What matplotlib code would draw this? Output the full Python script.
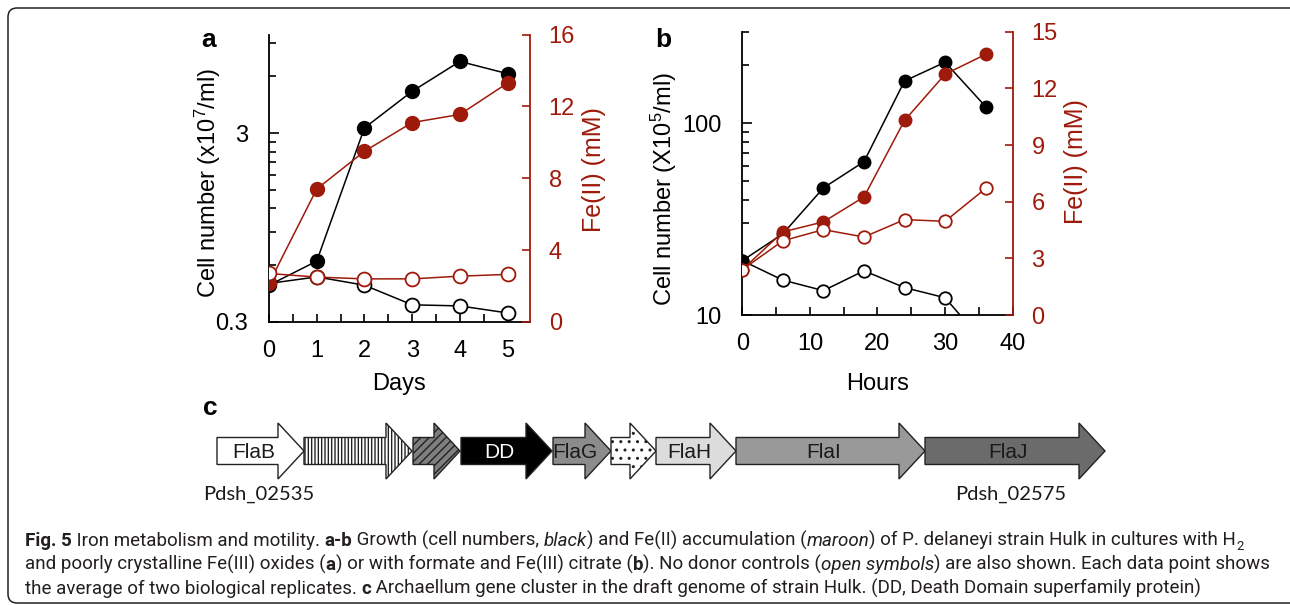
import matplotlib
matplotlib.use("Agg")
import matplotlib.pyplot as plt
import matplotlib.ticker as ticker
from matplotlib.patches import Polygon, FancyBboxPatch
from matplotlib.transforms import IdentityTransform
import numpy as np

# Fonts: Arial-like for the charts
plt.rcParams["font.family"] = ["Liberation Sans", "DejaVu Sans"]
plt.rcParams["mathtext.fontset"] = "custom"
plt.rcParams["mathtext.rm"] = "Liberation Sans"
plt.rcParams["mathtext.it"] = "Liberation Sans:italic"
plt.rcParams["mathtext.bf"] = "Liberation Sans:bold"
plt.rcParams["hatch.linewidth"] = 1.0

MAROON = "#9e1a0a"
FS = 17

# Panel a: H2 + Fe(III) oxides (days)
days = [0, 1, 2, 3, 4, 5]
a_cells = [0.47, 0.63, 3.2, 5.0, 7.2, 6.2]
a_cells_ctrl = [0.48, 0.52, 0.47, 0.37, 0.365, 0.335]
a_fe = [2.15, 7.4, 9.5, 11.1, 11.55, 13.3]
a_fe_ctrl = [2.7, 2.5, 2.4, 2.4, 2.55, 2.65]

# Panel b: formate + Fe(III) citrate (hours)
hours = [0, 6, 12, 18, 24, 30, 36]
b_cells = [19.2, 26.5, 46, 63, 166, 208, 122]
b_cells_ctrl = [19.2, 15.2, 13.4, 17.0, 13.9, 12.3, 7.0]
b_fe = [2.4, 4.4, 4.93, 6.25, 10.3, 12.75, 13.8]
b_fe_ctrl = [2.4, 3.93, 4.52, 4.13, 5.05, 4.96, 6.7]

# Panel c: archaellum gene cluster (map units)
gene_start = [217, 304, 413, 461, 553, 611, 656, 736, 925]
gene_end = [304, 412, 460, 552, 611, 656, 736, 925, 1105]
gene_names = ["FlaB", "", "", "DD", "FlaG", "", "FlaH", "FlaI", "FlaJ"]
gene_fill = ["white", "white", "#7f7f7f", "black", "#8c8c8c", "white", "#dcdcdc", "#999999", "#6b6b6b"]
gene_hatch = [None, "|||||", "////", None, None, "..", None, None, None]

W, H = 1290, 605
fig = plt.figure(figsize=(W / 100, H / 100), dpi=100)


def px_axes(left, top, right, bottom):
    return fig.add_axes([left / W, 1 - bottom / H, (right - left) / W, (bottom - top) / H])


def growth_panel(ax, x, cells, cells_ctrl, fe, fe_ctrl, ms):
    ax.plot(x, cells_ctrl, color="black", lw=1.1, marker="o", ms=ms, mfc="white", mec="black", mew=1.3)
    ax.plot(x, cells, color="black", lw=1.1, marker="o", ms=ms, mfc="black", mec="black")
    ax.set_yscale("log")
    axr = ax.twinx()
    axr.plot(x, fe, color=MAROON, lw=1.1, marker="o", ms=ms, mfc=MAROON, mec=MAROON)
    axr.plot(x, fe_ctrl, color=MAROON, lw=1.1, marker="o", ms=ms, mfc="white", mec=MAROON, mew=1.3)
    for s in ["top", "right"]:
        ax.spines[s].set_visible(False)
    for s in ["top", "left", "bottom"]:
        axr.spines[s].set_visible(False)
    ax.spines["left"].set_linewidth(1.3)
    ax.spines["bottom"].set_linewidth(1.3)
    axr.spines["right"].set_linewidth(1.3)
    axr.spines["right"].set_color(MAROON)
    ax.tick_params(axis="x", which="both", direction="in", length=6, width=1.2, pad=13, labelsize=FS)
    ax.tick_params(axis="y", which="major", direction="in", length=7, width=1.2, pad=15, labelsize=FS)
    ax.tick_params(axis="y", which="minor", direction="in", length=5, width=1.2)
    axr.tick_params(axis="y", direction="in", length=6, width=1.2, pad=13.5, labelsize=FS,
                    color=MAROON, labelcolor=MAROON)
    return axr


# ---- panel a
ax_a = px_axes(269, 34.5, 530, 322)
axr_a = growth_panel(ax_a, days, a_cells, a_cells_ctrl, a_fe, a_fe_ctrl, 10)
ax_a.set_xlim(0, 5.47)
ax_a.set_ylim(0.3, 10)
ax_a.xaxis.set_major_locator(ticker.MultipleLocator(1))
ax_a.xaxis.set_minor_locator(ticker.MultipleLocator(0.5))
ax_a.yaxis.set_major_locator(ticker.FixedLocator([0.3, 3]))
ax_a.yaxis.set_major_formatter(ticker.FixedFormatter(["0.3", "3"]))
ax_a.yaxis.set_minor_locator(ticker.FixedLocator(np.concatenate([0.3 * np.arange(2, 10), 3 * np.arange(2, 4)])))
ax_a.yaxis.set_minor_formatter(ticker.NullFormatter())
axr_a.set_ylim(0, 16)
axr_a.yaxis.set_major_locator(ticker.MultipleLocator(4))
ax_a.set_xlabel("Days", fontsize=FS, labelpad=8)
ax_a.set_ylabel(r"Cell number (x10$^{7}$/ml)", fontsize=FS)
ax_a.yaxis.set_label_coords(-0.176, 0.483)
axr_a.set_ylabel("Fe(II) (mM)", fontsize=18, color=MAROON)
axr_a.yaxis.set_label_coords(1.2, 0.53)

# ---- panel b
ax_b = px_axes(742.3, 31.7, 1012.7, 315)
axr_b = growth_panel(ax_b, hours, b_cells, b_cells_ctrl, b_fe, b_fe_ctrl, 9)
ax_b.set_xlim(0, 40)
ax_b.set_ylim(10, 300)
ax_b.xaxis.set_major_locator(ticker.MultipleLocator(10))
ax_b.xaxis.set_minor_locator(ticker.MultipleLocator(5))
ax_b.yaxis.set_major_locator(ticker.FixedLocator([10, 100]))
ax_b.yaxis.set_major_formatter(ticker.FixedFormatter(["10", "100"]))
ax_b.yaxis.set_minor_locator(ticker.LogLocator(subs=np.arange(2, 10)))
ax_b.yaxis.set_minor_formatter(ticker.NullFormatter())
axr_b.set_ylim(0, 15)
axr_b.yaxis.set_major_locator(ticker.MultipleLocator(3))
ax_b.set_xlabel("Hours", fontsize=FS, labelpad=13)
ax_b.set_ylabel(r"Cell number (X10$^{5}$/ml)", fontsize=FS)
ax_b.yaxis.set_label_coords(-0.234, 0.445)
axr_b.set_ylabel("Fe(II) (mM)", fontsize=18, color=MAROON)
axr_b.yaxis.set_label_coords(1.19, 0.54)

# ---- panel c: gene arrows
ax_c = px_axes(200, 400, 1120, 510)
ax_c.set_xlim(200, 1120)
ax_c.set_ylim(510, 400)
ax_c.axis("off")
yc, body, head, head_len = 451, 13.5, 28, 26
for s, e, name, fc, hatch in zip(gene_start, gene_end, gene_names, gene_fill, gene_hatch):
    he = e - head_len
    pts = [(s, yc - body), (he, yc - body), (he, yc - head), (e, yc),
           (he, yc + head), (he, yc + body), (s, yc + body)]
    ax_c.add_patch(Polygon(pts, closed=True, facecolor=fc, edgecolor="#222222",
                           lw=1.0, hatch=hatch))
    if name:
        ax_c.text((s + e) / 2 - 7, yc + 7.5, name, fontsize=15, ha="center", va="baseline",
                  color="white" if fc == "black" else "#1a1a1a")
ax_c.text(gene_start[0] - 14, 500, "Pdsh_02535", fontsize=14.5, family=["Lato", "DejaVu Sans"],
          color="#1a1a1a", ha="left", va="baseline", clip_on=False)
ax_c.text(gene_end[-1] - 150, 500, "Pdsh_02575", fontsize=14.5, family=["Lato", "DejaVu Sans"],
          color="#1a1a1a", ha="left", va="baseline", clip_on=False)

# panel letters
for letter, (lx, ly) in {"a": (209, 47), "b": (663, 47), "c": (210, 415)}.items():
    fig.text(lx / W, 1 - ly / H, letter, fontsize=19, fontweight="bold", ha="center", va="baseline")

# ---- caption with mixed styles
CAP_FONT = ["Roboto", "DejaVu Sans"]
CAP_COLOR = "#231f20"
caption = [
    [("Fig. 5", "b"), (" Iron metabolism and motility. ", "n"), ("a-b", "b"),
     (" Growth (cell numbers, ", "n"), ("black", "i"), (") and Fe(II) accumulation (", "n"),
     ("maroon", "i"), (") of P. delaneyi strain Hulk in cultures with H", "n"), ("2", "sub")],
    [("and poorly crystalline Fe(III) oxides (", "n"), ("a", "b"),
     (") or with formate and Fe(III) citrate (", "n"), ("b", "b"),
     ("). No donor controls (", "n"), ("open symbols", "i"),
     (") are also shown. Each data point shows", "n")],
    [("the average of two biological replicates. ", "n"), ("c", "b"),
     (" Archaellum gene cluster in the draft genome of strain Hulk. (DD, Death Domain superfamily protein)", "n")],
]
renderer = fig.canvas.get_renderer()


def run_kw(style, size):
    kw = dict(fontsize=size, family=CAP_FONT, color=CAP_COLOR, ha="left", va="baseline")
    if style == "b":
        kw["fontweight"] = "bold"
    elif style == "i":
        kw["fontstyle"] = "italic"
    elif style == "sub":
        kw["fontsize"] = size * 0.7
    return kw


def run_width(text, kw):
    probe = fig.text(0, 0, text + "|", **kw)
    bar = fig.text(0, 0, "|", **kw)
    w = probe.get_window_extent(renderer).width - bar.get_window_extent(renderer).width
    probe.remove()
    bar.remove()
    return w


def draw_line(runs, x0, base, size, draw=True):
    x = x0
    for text, style in runs:
        kw = run_kw(style, size)
        yy = base + (4 if style == "sub" else 0)
        if draw:
            fig.text(x / W, 1 - yy / H, text, **kw)
        x += run_width(text, kw)
    return x - x0


# scale the caption so the first two lines span about what they do in print
cap_size = 13
natural = (draw_line(caption[0], 25, 540, cap_size, draw=False)
           + draw_line(caption[1], 25, 540, cap_size, draw=False))
cap_size = cap_size * (1237 + 1227) / natural
for runs, base in zip(caption, [546, 570, 593.5]):
    draw_line(runs, 25, base, cap_size)

# rounded frame around the whole figure
frame = FancyBboxPatch((8, 2), 1292, 595, boxstyle="round,pad=0,rounding_size=9",
                       transform=IdentityTransform(), facecolor="none", edgecolor="#222222", lw=1.1)
fig.add_artist(frame)

fig.savefig("out.png", dpi=100)
